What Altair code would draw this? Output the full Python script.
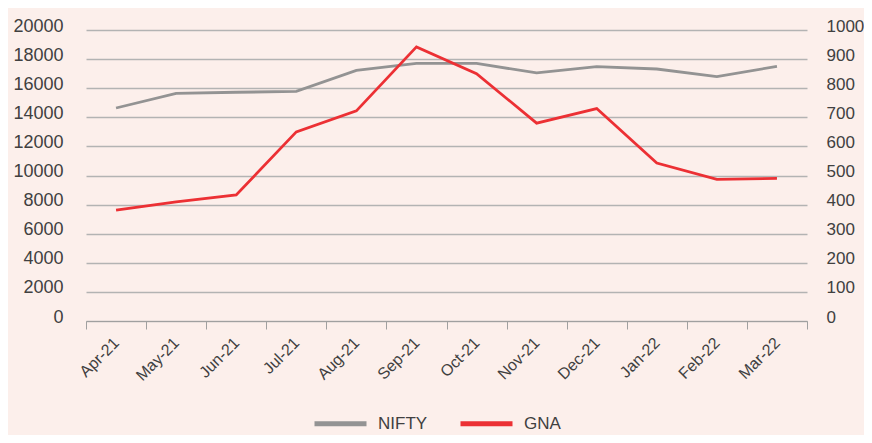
import altair as alt
import pandas as pd

months = ["Apr-21", "May-21", "Jun-21", "Jul-21", "Aug-21", "Sep-21",
          "Oct-21", "Nov-21", "Dec-21", "Jan-22", "Feb-22", "Mar-22"]
nifty = [14640, 15650, 15720, 15780, 17220, 17700, 17700, 17050, 17480, 17320, 16790, 17500]
gna = [381, 409, 433, 650, 722, 942, 850, 680, 730, 543, 487, 490]

df = pd.DataFrame({"month": months * 2,
                   "value": nifty + gna,
                   "series": ["NIFTY"] * 12 + ["GNA"] * 12})

BG = "#fcefeb"
FONT = "Liberation Sans"
LABEL = "#404040"

color = alt.Color("series:N",
                  scale=alt.Scale(domain=["NIFTY", "GNA"], range=["#939393", "#ec3034"]),
                  legend=alt.Legend(title=None, orient="none", direction="horizontal",
                                    legendX=226, legendY=365,
                                    symbolType="stroke", symbolSize=2704,
                                    symbolStrokeWidth=5, labelFontSize=17,
                                    labelFont=FONT, labelColor=LABEL,
                                    labelOffset=9, columnPadding=22))

x = alt.X("month:N", sort=months, title=None,
          scale=alt.Scale(paddingInner=0, paddingOuter=0),
          axis=alt.Axis(labelAngle=-45, labelAlign="right", labelBaseline="middle",
                        labelFontSize=16, labelFont=FONT, labelColor=LABEL,
                        labelPadding=11, tickBand="extent", tickSize=8,
                        tickColor="#a0a0a0", domainColor="#a0a0a0", grid=False))

left = alt.Chart(df).transform_filter(alt.datum.series == "NIFTY").mark_line(strokeWidth=2.8).encode(
    x=x,
    y=alt.Y("value:Q", title=None,
            scale=alt.Scale(domain=[0, 20000], nice=False),
            axis=alt.Axis(orient="left", values=list(range(0, 20001, 2000)), format="d",
                          labelFontSize=18, labelFont=FONT, labelColor=LABEL,
                          labelPadding=23, domain=False, ticks=False,
                          grid=True, gridColor="#b3b3b3", gridWidth=1.3,
                          labelOffset=-4)),
    color=color,
)

right = alt.Chart(df).transform_filter(alt.datum.series == "GNA").mark_line(strokeWidth=2.8).encode(
    x=x,
    y=alt.Y("value:Q", title=None,
            scale=alt.Scale(domain=[0, 1000], nice=False),
            axis=alt.Axis(orient="right", values=list(range(0, 1001, 100)), format="d",
                          labelFontSize=17, labelFont=FONT, labelColor=LABEL,
                          labelPadding=19, domain=False, ticks=False, grid=False,
                          labelOffset=-4)),
    color=color,
)

chart = alt.layer(left, right).resolve_scale(y="independent").properties(
    width=721, height=291,
    autosize=alt.AutoSizeParams(type="none"),
    padding={"left": 78, "top": 22, "right": 57, "bottom": 114},
    background=BG,
).configure_view(stroke=None)

chart.save("out.html", embed_options={"renderer": "svg", "actions": False})
